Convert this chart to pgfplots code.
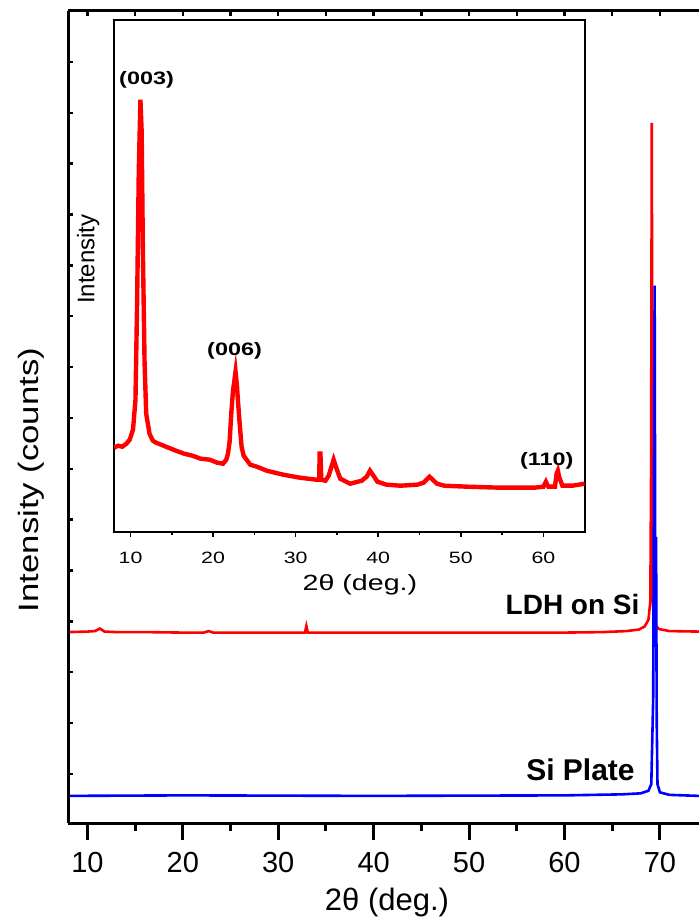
\documentclass[border=0pt]{standalone}
\usepackage{fontspec}
\setmainfont{Liberation Sans}
\usepackage{graphicx}
\usepackage{pgfplots}
\pgfplotsset{compat=1.18}
\begin{document}
\begin{tikzpicture}
\path[use as bounding box] (-34.15pt,-49.5pt) rectangle (315.35pt,411.5pt);
% main data axis
\begin{axis}[
 at={(0pt,0pt)}, anchor=south west,
 scale only axis, width=315.35pt, height=406pt,
 xmin=8, xmax=74.1, ymin=-0.963, ymax=15,
 axis x line=bottom, axis y line=left,
 axis line style={-, line width=1.5pt},
 xtick={10,20,...,70}, minor xtick={15,25,...,65},
 ytick=\empty,
 tick align=outside, major tick length=8.5pt, minor tick length=4pt,
 every tick/.append style={black, line width=1.5pt},
 /pgf/number format/assume math mode=true,
 xticklabel style={font=\fontsize{14.5}{17}\selectfont, yshift=-2.5pt},
 xlabel={2θ (deg.)},
 xlabel style={at={(axis description cs:0.5053,-0.0985)}, anchor=center, font=\fontsize{15.5}{18}\selectfont},
 ylabel={\scalebox{1.24}[1]{Intensity (counts)}},
 ylabel style={at={(axis description cs:-0.0583,0.4224)}, anchor=center, font=\fontsize{14}{16}\selectfont},
]
\addplot[red, line width=1.3pt] coordinates {
(8,2.79) (10,2.80) (10.8,2.81) (11.3,2.86) (11.8,2.80) (13,2.79) (16,2.79) (20,2.78) (22.2,2.78) (22.7,2.81) (23.2,2.78) (26,2.78) (30,2.78) (32.8,2.78) (32.95,2.91) (33.1,2.78) (36,2.78) (40,2.78) (45,2.78) (50,2.78) (55,2.78) (60,2.78) (64,2.79) (66.5,2.81) (67.8,2.84) (68.4,2.90) (68.8,3.03) (69.0,3.4) (69.08,6) (69.15,12.8) (69.22,6) (69.3,3.3) (69.5,2.93) (69.9,2.85) (71,2.81) (74.1,2.80)
};
\addplot[blue, line width=1.3pt] coordinates {
(8,-0.43) (20,-0.42) (40,-0.43) (60,-0.42) (66,-0.40) (68.0,-0.38) (68.8,-0.33) (69.1,-0.2) (69.3,1.5) (69.45,9.6) (69.53,2.5) (69.6,4.66) (69.67,1.0) (69.75,-0.2) (70.0,-0.36) (71,-0.41) (74.1,-0.43)
};
\node[anchor=base east, inner sep=0pt, font=\fontsize{14}{16}\selectfont\bfseries] at (axis cs:67.9,3.13) {LDH on Si};
\node[anchor=base east, inner sep=0pt, font=\fontsize{15}{17}\selectfont\bfseries] at (axis cs:67.4,-0.118) {Si Plate};
\end{axis}
% overlay for top and left inward ticks
\begin{axis}[
 at={(0pt,0pt)}, anchor=south west,
 scale only axis, width=315.35pt, height=406pt,
 xmin=8, xmax=74.1, ymin=-0.963, ymax=15,
 axis x line=top, axis y line=left,
 axis line style={-, line width=1.5pt},
 xtick={10,15,...,70}, ytick={0,1,...,14},
 xticklabels={}, yticklabels={},
 tick align=inside, major tick length=2.5pt,
 every tick/.append style={black, line width=1.2pt},
]
\end{axis}
% inset
\begin{axis}[
 at={(22.85pt,145.65pt)}, anchor=south west,
 scale only axis, width=235.35pt, height=255.7pt,
 xmin=8, xmax=65, ymin=0, ymax=511.4,
 axis background/.style={fill=white},
 axis line style={line width=1pt},
 ytick=\empty,
 xtick={10,20,...,60}, minor xtick={15,25,...,55},
 xtick pos=left,
 tick align=outside, major tick length=2.5pt, minor tick length=1.5pt,
 every tick/.append style={black, line width=0.8pt},
 /pgf/number format/assume math mode=true,
 xticklabel={\scalebox{1.3}[1]{\pgfmathprintnumber{\tick}}},
 xticklabel style={font=\fontsize{8.2}{10}\selectfont, yshift=-4pt},
 xlabel={\scalebox{1.3}[1]{2θ (deg.)}},
 xlabel style={at={(axis description cs:0.5226,-0.1043)}, anchor=center, font=\fontsize{11}{13}\selectfont},
 ylabel={Intensity},
 ylabel style={at={(axis description cs:-0.055,0.533)}, anchor=center, font=\fontsize{12}{14}\selectfont},
]
\addplot[red, line width=2.2pt] coordinates {
(8.0,84) (8.5,86) (9.0,85) (9.5,88) (9.9,92) (10.3,102) (10.6,132) (10.8,230) (11.0,360) (11.2,432) (11.35,400) (11.5,280) (11.7,170) (11.9,118) (12.3,98) (12.7,91) (13.1,89) (14.3,85) (15.5,81) (16.5,78) (17.5,76) (18.5,73) (19.6,72) (20.5,69) (21.2,68) (21.6,72) (21.8,78) (22.0,90) (22.2,118) (22.4,140) (22.72,160) (22.9,145) (23.0,132) (23.2,110) (23.45,85) (23.7,76) (24.05,72) (24.5,67) (25.3,65) (26.5,61) (28.5,57) (30.5,54) (32.5,52) (32.85,52) (32.9,78) (33.0,78) (33.1,52) (33.6,51) (34.0,56) (34.6,72) (35.0,62) (35.4,53) (36.6,48) (38.0,51) (38.6,55) (39.0,61) (39.5,55) (39.9,50) (41,47) (42.7,46) (44.7,47) (45.5,49) (46.2,55) (46.6,52) (47.1,48) (48,46) (50.8,45) (54.8,44) (58.9,44) (60.0,45) (60.3,50) (60.6,45) (61.4,45) (61.6,58) (61.75,61) (61.9,55) (62.3,46) (63.5,46) (65.0,48)
};
\node[font=\fontsize{9}{10}\selectfont\bfseries] at (axis cs:11.94,452) {\scalebox{1.3}[1]{(003)}};
\node[font=\fontsize{9}{10}\selectfont\bfseries] at (axis cs:22.6,181) {\scalebox{1.3}[1]{(006)}};
\node[font=\fontsize{9}{10}\selectfont\bfseries] at (axis cs:60.4,71.2) {\scalebox{1.3}[1]{(110)}};
\end{axis}
\end{tikzpicture}
\end{document}
